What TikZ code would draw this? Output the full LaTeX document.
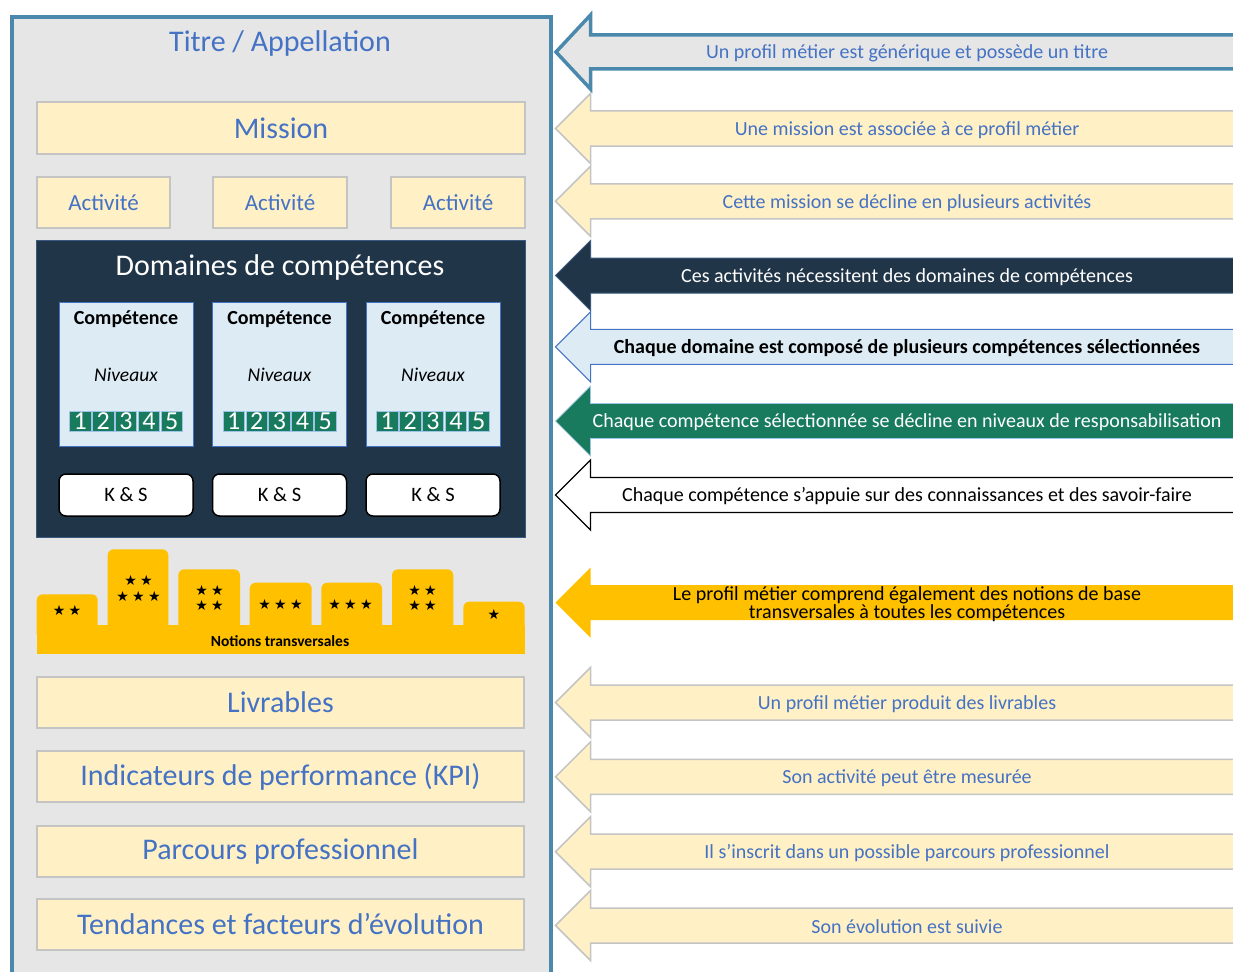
\documentclass[tikz,border=0pt]{standalone}
\usepackage{fontspec}
\setmainfont{Carlito}
\newfontfamily\symfont{DejaVu Sans}
\definecolor{tblue}{HTML}{4472C4}
\definecolor{panelfill}{HTML}{E6E6E6}
\definecolor{panelline}{HTML}{4A89AC}
\definecolor{ltyellow}{HTML}{FFF0C6}
\definecolor{ybord}{HTML}{C4C4C4}
\definecolor{navy}{HTML}{213549}
\definecolor{navyline}{HTML}{3A5A80}
\definecolor{ltblue}{HTML}{DDEBF5}
\definecolor{lvgreen}{HTML}{197B5D}
\definecolor{lvline}{HTML}{9DC3E6}
\definecolor{gold}{HTML}{FFC000}
\newcommand\fs[1]{\fontsize{#1}{#1}\selectfont}
\newcommand\fss[2]{\fontsize{#1}{#2}\selectfont}
\newcommand\blockarrow[2]{%
  \path[#1] (1250,#2-17.5) -- (590.5,#2-17.5) -- (590.5,#2-35) -- (555.5,#2)
    -- (590.5,#2+35) -- (590.5,#2+17.5) -- (1250,#2+17.5);}
\newcommand\strs[1]{{\symfont\fs{14}#1}}
\newcommand\stsp{\hspace{3.3pt}}
\tikzset{
  ybox/.style={draw=ybord, line width=1.5, fill=ltyellow, text=tblue, inner sep=0},
  big/.style={font=\fs{30}},
  comp/.style={draw=tblue, line width=1, fill=ltblue, minimum width=134, minimum height=144, inner sep=0},
  lvl/.style={draw=lvline, line width=0.7, fill=lvgreen, text=white, font=\fs{26}, minimum width=21.5, minimum height=20, inner sep=0},
  ks/.style={draw=black, line width=1.5, fill=white, rounded corners=7, minimum width=134, minimum height=42, inner sep=0, font=\fs{20.5}},
  atxt/.style={font=\fs{20}, text=tblue, inner sep=0, yshift=-1.5pt},
  yarrow/.style={draw=ybord, line width=1.5, fill=ltyellow},
  star/.style={inner sep=0},
}
\begin{document}
\begin{tikzpicture}[x=1pt,y=-1pt]
\clip (0,0) rectangle (1233,971);
\fill[white] (0,0) rectangle (1233,971);
% panel
\path[draw=panelline, line width=3.5, fill=panelfill] (12,17) rectangle (551,990);
\node[text=tblue, big, inner sep=0] (title) at (280,44) {Titre / Appellation};
\node[ybox, big, minimum width=488, minimum height=52] (mission) at (281,128) {Mission};
\node[ybox, font=\fs{23}, minimum width=133, minimum height=51] (act1) at (103.5,202.5) {Activité};
\node[ybox, font=\fs{23}, minimum width=134, minimum height=51] (act2) at (280,202.5) {Activité};
\node[ybox, font=\fs{23}, minimum width=134, minimum height=51] (act3) at (458,202.5) {Activité};
% domaines
\node[draw=navyline, line width=1, fill=navy, minimum width=489, minimum height=297, inner sep=0] (dom) at (280.5,388.5) {};
\node[text=white, big, inner sep=0] (domt) at (280,267) {Domaines de compétences};
\foreach \cx/\n in {126/1,279.5/2,433/3}{
  \node[comp] (comp\n) at (\cx,374) {};
  \node[font=\bfseries\fs{20}, inner sep=0] (compt\n) at (\cx,319) {Compétence};
  \node[font=\itshape\fs{19.5}, inner sep=0] (niv\n) at (\cx,375) {Niveaux};
  \foreach \k in {1,...,5}{
    \node[lvl] (lv\n\k) at (\cx+\k*22.9-3*22.9,421) {\k};
  }
  \node[ks] (ks\n) at (\cx,495) {K \& S};
}
% notions transversales
\foreach \a/\b/\t in {36.7/97.7/594.3, 107.7/168.3/549.3, 178.3/240/569.3, 249.7/311.7/582.7, 321.3/382/582.7, 392/453.3/569.3, 463.3/524.7/601.7}{
  \fill[gold, rounded corners=6] (\a,\t) rectangle (\b,640);
}
\fill[gold] (36.7,625) rectangle (524.7,654.3);
\node[star] (s1) at (67,610) {\strs{★\stsp★}};
\node[star] (s2a) at (138.5,580.7) {\strs{★\stsp★}};
\node[star] (s2b) at (138.5,596.7) {\strs{★\stsp★\stsp★}};
\node[star] (s3a) at (209.5,590) {\strs{★\stsp★}};
\node[star] (s3b) at (209.5,605.7) {\strs{★\stsp★}};
\node[star] (s4) at (280.5,604.3) {\strs{★\stsp★\stsp★}};
\node[star] (s5) at (350.5,604.3) {\strs{★\stsp★\stsp★}};
\node[star] (s6a) at (422.5,590) {\strs{★\stsp★}};
\node[star] (s6b) at (422.5,605.7) {\strs{★\stsp★}};
\node[star] (s7) at (494,614.3) {\strs{★}};
\node[font=\bfseries\fs{15.5}, inner sep=0] (notions) at (280,641) {Notions transversales};
% lower boxes
\node[ybox, big, minimum width=487, minimum height=51] (liv) at (280.5,702.5) {Livrables};
\node[ybox, big, minimum width=487, minimum height=51] (kpi) at (280.5,776.5) {Indicateurs de performance (KPI)};
\node[ybox, big, minimum width=487, minimum height=51] (parc) at (280.5,851.5) {Parcours professionnel};
\node[ybox, big, minimum width=487, minimum height=51] (tend) at (280.5,924.5) {Tendances et facteurs d’évolution};
% arrows
\path[draw=panelline, line width=3.5, fill=panelfill, line join=miter] (1250,35) -- (590.5,35) -- (590.5,15) -- (556,52) -- (590.5,89) -- (590.5,69) -- (1250,69);
\node[atxt] (a1) at (907,52) {Un profil métier est générique et possède un titre};
\blockarrow{yarrow}{128.5}
\node[atxt] (a2) at (907,128.5) {Une mission est associée à ce profil métier};
\blockarrow{yarrow}{201.3}
\node[atxt] (a3) at (907,201.3) {Cette mission se décline en plusieurs activités};
\blockarrow{draw=navyline, line width=1, fill=navy}{275.5}
\node[atxt, text=white] (a4) at (907,275.5) {Ces activités nécessitent des domaines de compétences};
\blockarrow{draw=tblue, line width=1, fill=ltblue}{346.8}
\node[atxt, text=black, font=\bfseries\fs{20}] (a5) at (907,346.8) {Chaque domaine est composé de plusieurs compétences sélectionnées};
\blockarrow{draw=lvline, line width=0.7, fill=lvgreen}{421}
\node[atxt, text=white] (a6) at (907,421) {Chaque compétence sélectionnée se décline en niveaux de responsabilisation};
\blockarrow{draw=black, line width=1.2, fill=white}{495}
\node[atxt, text=black] (a7) at (907,495) {Chaque compétence s’appuie sur des connaissances et des savoir-faire};
\blockarrow{fill=gold}{602.7}
\node[atxt, text=black, align=center, font=\fss{20}{15}] (a12) at (907,602.7) {Le profil métier comprend également des notions de base\\transversales à toutes les compétences};
\blockarrow{yarrow}{702.5}
\node[atxt] (a8) at (907,702.5) {Un profil métier produit des livrables};
\blockarrow{yarrow}{776.8}
\node[atxt] (a9) at (907,776.8) {Son activité peut être mesurée};
\blockarrow{yarrow}{851.7}
\node[atxt] (a10) at (907,851.7) {Il s’inscrit dans un possible parcours professionnel};
\blockarrow{yarrow}{925.5}
\node[atxt] (a11) at (907,925.5) {Son évolution est suivie};
\end{tikzpicture}
\end{document}
